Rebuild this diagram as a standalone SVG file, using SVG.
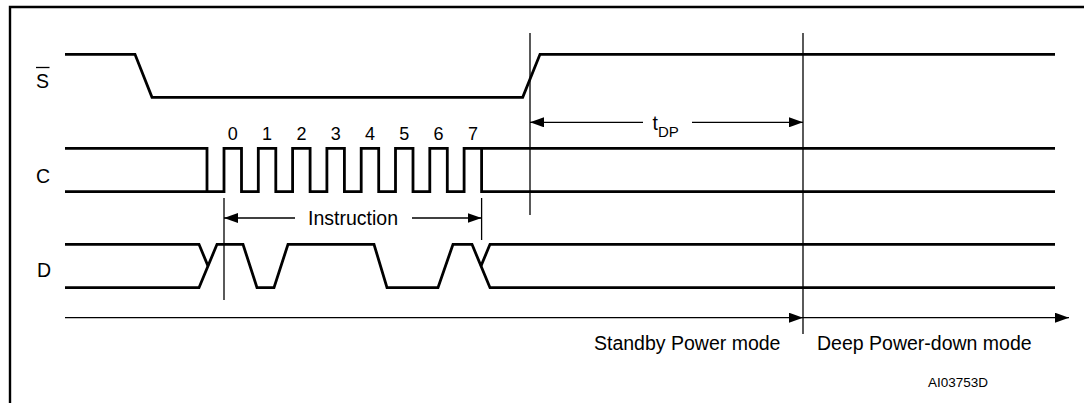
<svg xmlns="http://www.w3.org/2000/svg" width="1084" height="403" viewBox="0 0 1084 403">
<style>
.sig{fill:none;stroke:#000;stroke-width:2.8;stroke-linejoin:miter;stroke-linecap:butt}
.thin{fill:none;stroke:#000;stroke-width:1.3}
.frame{fill:none;stroke:#000;stroke-width:2.4}
text{font-family:"Liberation Sans",Arial,sans-serif;fill:#000}
.lbl{font-size:19.5px}
.num{font-size:18px;text-anchor:middle}
.code{font-size:13.5px}
</style>
<defs>
<marker id="ah" viewBox="0 0 14 10" refX="14" refY="5" markerWidth="14" markerHeight="10" markerUnits="userSpaceOnUse" orient="auto-start-reverse">
<path d="M0,0 L14,5 L0,10 Z" fill="#000"/>
</marker>
</defs>
<rect width="1084" height="403" fill="#fff"/>
<path class="frame" d="M10,403 V7 H1084"/>

<g id="signal-S">
<text class="lbl" x="36" y="88">S</text>
<line x1="36" y1="67.5" x2="49.5" y2="67.5" stroke="#000" stroke-width="1.3"/>
<path class="sig" d="M65,54.3 H135 L152,97.3 H522.7 L540,54.3 H1055"/>
</g>

<g id="signal-C">
<text class="lbl" x="36" y="183">C</text>
<path class="sig" d="M65,148.3 H207 V191.7 H65"/>
<path class="sig" d="M207,191.7 H224 V148.3 H241.5 V191.7 H258.3 V148.3 H275.8 V191.7 H292.6 V148.3 H310.1 V191.7 H326.9 V148.3 H344.4 V191.7 H361.2 V148.3 H378.7 V191.7 H395.5 V148.3 H413 V191.7 H429.8 V148.3 H447.3 V191.7 H464.1 V148.3 H481.6 V191.7 H1055"/>
<path class="sig" d="M481.6,148.3 H1055"/>
<text class="num" x="232.8" y="140">0</text>
<text class="num" x="267.1" y="140">1</text>
<text class="num" x="301.4" y="140">2</text>
<text class="num" x="335.7" y="140">3</text>
<text class="num" x="370" y="140">4</text>
<text class="num" x="404.3" y="140">5</text>
<text class="num" x="438.6" y="140">6</text>
<text class="num" x="472.9" y="140">7</text>
</g>

<g id="signal-D">
<text class="lbl" x="37" y="277">D</text>
<path class="sig" d="M65,244.3 H199 L208,266"/>
<path class="sig" d="M65,287.7 H199 L217,244.3 H243 L257,287.7 H274 L288,244.3 H374 L387,287.7 H438 L453,244.3 H472 L490,287.7 H1055"/>
<path class="sig" d="M481,266 L490,244.3 H1055"/>
</g>

<g id="markers">
<line class="thin" x1="530" y1="33" x2="530" y2="215"/>
<line class="thin" x1="803" y1="33" x2="803" y2="334"/>
<line class="thin" x1="224" y1="198" x2="224" y2="300"/>
<line class="thin" x1="481.6" y1="198" x2="481.6" y2="240"/>
</g>

<g id="connectors">
<line class="thin" x1="643" y1="122.3" x2="530" y2="122.3" marker-end="url(#ah)"/>
<line class="thin" x1="692" y1="122.3" x2="803" y2="122.3" marker-end="url(#ah)"/>
<line class="thin" x1="295" y1="218" x2="224" y2="218" marker-end="url(#ah)"/>
<line class="thin" x1="412" y1="218" x2="481.6" y2="218" marker-end="url(#ah)"/>
<line class="thin" x1="65" y1="317.7" x2="803" y2="317.7" marker-end="url(#ah)"/>
<line class="thin" x1="803" y1="317.7" x2="1069" y2="317.7" marker-end="url(#ah)"/>
</g>

<g id="labels">
<text class="lbl" x="652.5" y="130">t<tspan font-size="15" dy="6.7">DP</tspan></text>
<text class="lbl" x="353" y="225" text-anchor="middle">Instruction</text>
<text class="lbl" x="594" y="350">Standby Power mode</text>
<text class="lbl" x="817" y="350">Deep Power-down mode</text>
<text class="code" x="928" y="387">AI03753D</text>
</g>
</svg>
